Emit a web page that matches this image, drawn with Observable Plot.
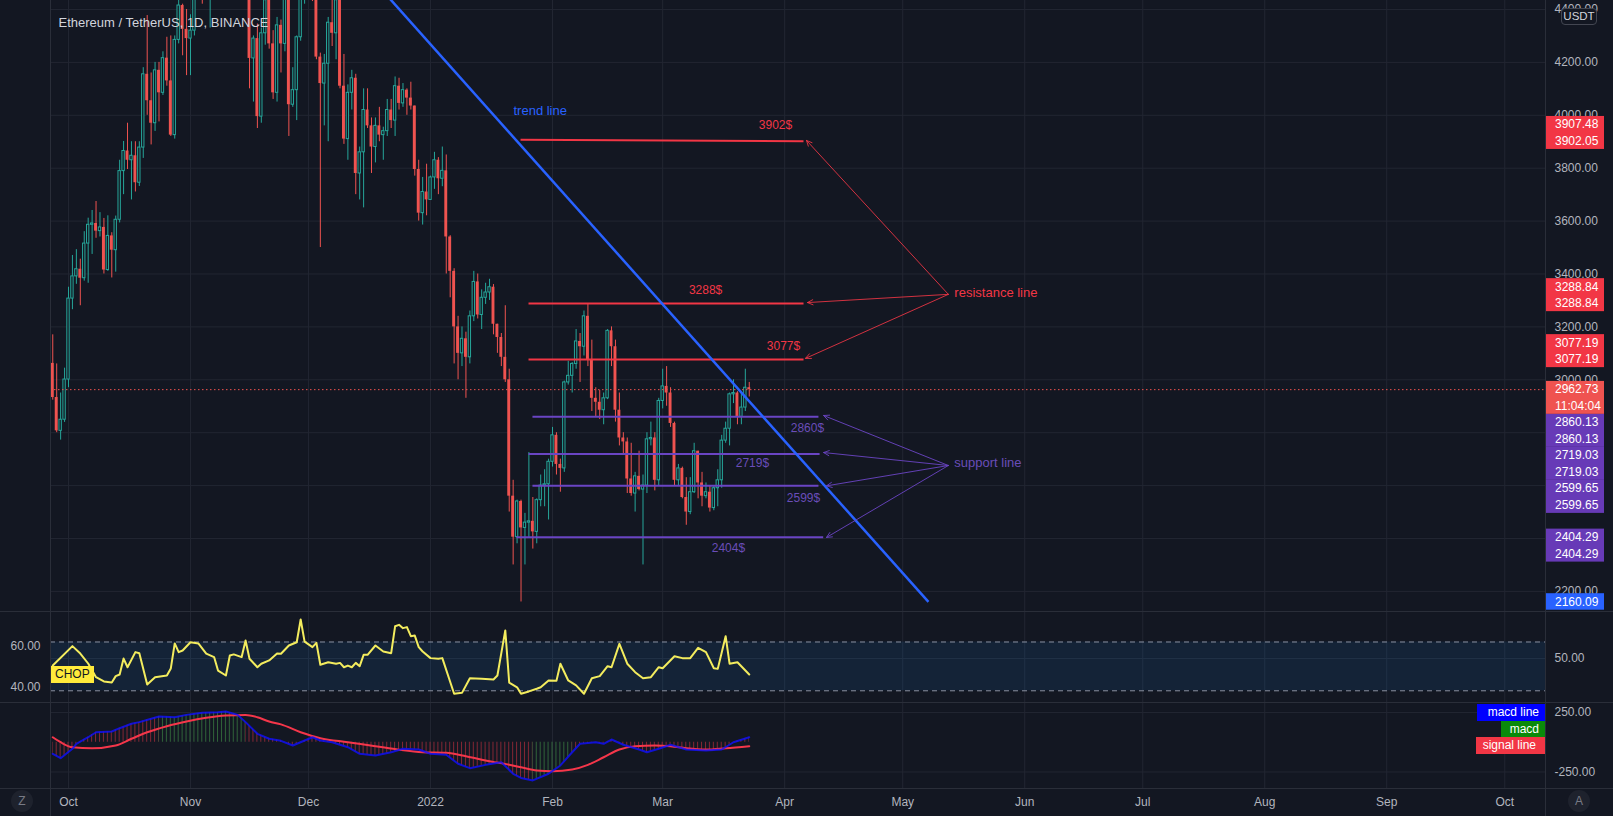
<!DOCTYPE html>
<html>
<head>
<meta charset="utf-8">
<script src="https://cdn.jsdelivr.net/npm/d3@7"></script>
<script src="https://cdn.jsdelivr.net/npm/@observablehq/plot@0.6"></script>
<style>
  html, body { margin: 0; padding: 0; background: #131722; overflow: hidden; }
  #chart { position: relative; width: 1613px; height: 816px; background: #131722; overflow: hidden;
           font-family: "Liberation Sans", Arial, sans-serif; }
  .layer { position: absolute; left: 0; }
  .layer svg { display: block; }
  .sep { position: absolute; background: #2a2e39; z-index: 6; }
  .tag { position: absolute; z-index: 7; font-size: 12px; color: #fff; height: 16.5px; line-height: 16.5px;
         box-sizing: border-box; white-space: nowrap; }
  .icon { position: absolute; z-index: 7; width: 22px; height: 22px; border-radius: 50%; background: #1e222d;
          color: #787b86; font-size: 12px; line-height: 22px; text-align: center; }
</style>
</head>
<body>
<div id="chart"></div>
<script>
// ---------------- DATA ----------------
const title = "Ethereum / TetherUS, 1D, BINANCE";
const firstDay = "2021-09-27";
const lastDay = "2022-03-23";

const opens = [3062,2933,2807,2849,
3001,3307,3391,3418,3384,3515,3586,3591,3562,3576,3415,3544,3490,3605,3789,3865,3830,3847,3745,3878,4155,4055,3970,4170,4085,4216,4130,3925,4285,4415,4325,
4290,4320,4585,4605,4530,4475,4520,4620,4810,4730,4635,4725,4665,4645,4625,4560,4215,4290,3995,4310,4435,4270,4085,4340,4270,4525,4040,4095,4295,4445,
4630,4585,4515,4220,4120,4195,4350,4310,4435,4110,3910,4085,4140,3780,3860,4020,3960,3880,3960,3925,3940,4020,3980,4110,4045,4095,4065,4035,3795,3630,3710,
3680,3765,3830,3760,3790,3540,3410,3200,3100,3155,3085,3240,3370,3245,3310,3330,3350,3210,3160,3085,3000,2560,2405,2540,2440,2460,2465,2425,2545,2600,2605,
2690,2790,2680,2665,2990,3015,3060,3145,3125,3240,3075,2930,2915,2885,2930,3185,3125,2885,2780,2765,2625,2570,2635,2585,2600,2775,2780,2620,
2920,2975,2950,2835,2620,2665,2555,2500,2575,2730,2610,2560,2575,2515,2590,2620,2770,2815,2945,2950,2860,2895,2970];
const highs = [3170,3060,2950,3044,
3350,3470,3492,3456,3560,3611,3640,3674,3632,3610,3620,3556,3619,3830,3901,3970,3900,3900,3900,4180,4377,4160,4200,4200,4240,4295,4300,4300,4460,4420,4400,
4380,4630,4665,4614,4575,4525,4635,4830,4840,4868,4780,4810,4700,4700,4770,4575,4300,4345,4330,4450,4450,4320,4370,4360,4555,4550,4180,4300,4460,4780,
4780,4650,4640,4235,4230,4370,4440,4450,4485,4230,4115,4170,4155,3880,4100,4100,3990,3990,4030,3955,4060,4060,4145,4140,4120,4100,4125,4035,3830,3765,3815,
3770,3860,3840,3880,3850,3545,3420,3240,3200,3180,3260,3410,3400,3340,3365,3380,3360,3210,3175,3280,3040,2620,2545,2545,2495,2725,2555,2550,2640,2660,2700,
2820,2800,2700,2995,3070,3065,3190,3175,3260,3285,3150,2970,2960,2950,3190,3200,3150,2950,2800,2780,2760,2650,2730,2640,2800,2840,2800,2930,
3040,3050,2970,2840,2680,2670,2630,2630,2760,2730,2650,2610,2600,2600,2660,2790,2840,2950,3000,2955,2950,3040,2990];
const lows = [2923,2800,2772,2839,
2970,3265,3361,3280,3373,3365,3474,3535,3540,3400,3410,3385,3407,3593,3700,3795,3680,3710,3731,3837,4000,3888,3939,3975,4075,4110,3920,3910,4270,4225,4150,
4150,4300,4460,4420,4445,4330,4500,4610,4710,4455,4580,4505,4560,4575,4545,4100,4050,3950,3970,4265,4250,4060,4050,4160,4240,3920,4030,3980,4280,4420,
4500,4430,4210,3500,3960,3900,4260,4210,4100,3890,3830,4020,3700,3680,3650,3950,3780,3820,3900,3830,3920,3950,3920,4020,4030,4000,4020,3770,3600,3585,3620,
3680,3720,3700,3730,3400,3310,3060,3000,3050,2930,3060,3220,3230,3190,3285,3300,3170,3100,3050,2990,2500,2300,2380,2160,2300,2400,2360,2380,2520,2520,2470,
2670,2640,2575,2650,2980,2950,3040,2990,3090,3050,2880,2860,2850,2830,2925,3050,2840,2750,2720,2570,2560,2500,2580,2300,2570,2750,2580,2600,
2890,2900,2820,2600,2600,2550,2450,2490,2570,2550,2520,2550,2500,2505,2520,2590,2760,2750,2910,2830,2830,2880,2935];
const closes = [2933,2807,2849,3001,
3307,3391,3418,3384,3515,3586,3591,3562,3576,3415,3544,3490,3605,3789,3865,3830,3847,3745,3878,4155,4055,3970,4170,4085,4216,4130,3925,4285,4415,4325,4290,
4320,4585,4605,4530,4475,4520,4620,4810,4730,4635,4725,4665,4645,4625,4560,4215,4290,3995,4310,4435,4270,4085,4340,4270,4525,4040,4095,4295,4445,4630,
4585,4515,4220,4120,4195,4350,4310,4435,4110,3910,4085,4140,3780,3860,4020,3960,3880,3960,3925,3940,4020,3980,4110,4045,4095,4065,4035,3795,3630,3710,3680,
3765,3830,3760,3790,3540,3410,3200,3100,3155,3085,3240,3370,3245,3310,3330,3350,3210,3160,3085,3000,2560,2405,2540,2440,2460,2465,2425,2545,2600,2605,2690,
2790,2680,2665,2990,3015,3060,3145,3125,3240,3075,2930,2915,2885,2930,3185,3125,2885,2780,2765,2625,2570,2635,2585,2600,2775,2780,2620,2920,
2975,2950,2835,2620,2665,2555,2500,2575,2730,2610,2560,2575,2515,2590,2620,2770,2815,2945,2950,2860,2895,2970,2962.73];
const lastPrice = 2962.73;

const priceTicks = [2200, 2400, 2600, 2800, 3000, 3200, 3400, 3600, 3800, 4000, 4200, 4400];
const monthTickDates = ["2021-10-01","2021-11-01","2021-12-01","2022-01-01","2022-02-01","2022-03-01","2022-04-01",
                        "2022-05-01","2022-06-01","2022-07-01","2022-08-01","2022-09-01","2022-10-01"];
const monthTickLabels = ["Oct","Nov","Dec","2022","Feb","Mar","Apr","May","Jun","Jul","Aug","Sep","Oct"];

// Choppiness index
const chopDates = ["2021-09-27","2021-10-02","2021-10-04","2021-10-06","2021-10-08","2021-10-10","2021-10-12","2021-10-13","2021-10-14","2021-10-15",
"2021-10-16","2021-10-18","2021-10-19","2021-10-21","2021-10-23","2021-10-26","2021-10-27","2021-10-28","2021-10-29","2021-10-30",
"2021-11-01","2021-11-03","2021-11-05","2021-11-07","2021-11-08","2021-11-10","2021-11-11","2021-11-12","2021-11-14","2021-11-15",
"2021-11-16","2021-11-18","2021-11-19","2021-11-21","2021-11-23","2021-11-24","2021-11-26","2021-11-28","2021-11-29","2021-11-30",
"2021-12-02","2021-12-03","2021-12-04","2021-12-06","2021-12-08","2021-12-09","2021-12-10","2021-12-11","2021-12-12","2021-12-13",
"2021-12-14","2021-12-15","2021-12-16","2021-12-18","2021-12-20","2021-12-22","2021-12-23","2021-12-24","2021-12-25","2021-12-26",
"2021-12-27","2021-12-28","2021-12-29","2021-12-30","2022-01-01","2022-01-03","2022-01-04","2022-01-07","2022-01-09","2022-01-11",
"2022-01-14","2022-01-17","2022-01-18","2022-01-20","2022-01-21","2022-01-23","2022-01-24","2022-01-26","2022-01-28","2022-01-29",
"2022-01-31","2022-02-02","2022-02-03","2022-02-05","2022-02-07","2022-02-09","2022-02-11","2022-02-13","2022-02-15","2022-02-16",
"2022-02-18","2022-02-20","2022-02-22","2022-02-24","2022-02-26","2022-02-28","2022-03-01","2022-03-04","2022-03-06","2022-03-08",
"2022-03-10","2022-03-12","2022-03-14","2022-03-15","2022-03-17","2022-03-18","2022-03-20","2022-03-23"];
const chopValues = [50.4,59.8,56.2,51.4,44.8,42.7,42.2,45.3,46.1,53.8,
49.6,56.9,56.4,41.2,44.8,45.6,49.0,61.1,56.9,57.7,
61.7,61.1,56.2,54.5,48.0,45.6,55.3,55.8,54.5,62.5,
53.7,49.6,51.3,52.9,56.2,56.1,60.1,61.7,72.7,62.0,
59.3,61.4,50.8,52.0,51.3,51.7,49.6,50.4,49.6,51.7,
50.1,55.6,55.6,60.1,57.2,56.4,69.4,70.1,68.5,69.0,
64.6,64.9,59.3,57.2,54.0,53.7,54.0,36.8,37.2,44.3,
44.0,43.7,45.6,67.4,42.1,39.9,36.8,37.9,39.2,39.9,
43.2,43.0,51.3,43.2,40.8,36.8,44.3,45.3,50.1,49.6,
60.9,51.3,47.2,44.3,44.8,49.6,49.1,54.9,54.0,54.0,
59.0,56.9,49.1,48.8,64.6,51.3,52.0,46.1];
const chopBandLevels = [38.2, 61.8];
const chopLeftTicks = [60, 40];
const chopRightTicks = [50];

// MACD
const macdDates = ["2021-09-27","2021-09-29","2021-10-02","2021-10-03","2021-10-06","2021-10-08","2021-10-12","2021-10-14","2021-10-17","2021-10-19",
"2021-10-22","2021-10-24","2021-10-28","2021-10-31","2021-11-04","2021-11-08","2021-11-10","2021-11-13","2021-11-15","2021-11-18",
"2021-11-21","2021-11-24","2021-11-27","2021-12-02","2021-12-04","2021-12-07","2021-12-11","2021-12-14","2021-12-18","2021-12-22",
"2021-12-25","2021-12-29","2022-01-01","2022-01-05","2022-01-08","2022-01-11","2022-01-15","2022-01-19","2022-01-22","2022-01-24",
"2022-01-27","2022-01-31","2022-02-03","2022-02-06","2022-02-08","2022-02-12","2022-02-14","2022-02-16","2022-02-19","2022-02-23",
"2022-02-25","2022-02-28","2022-03-03","2022-03-07","2022-03-12","2022-03-16","2022-03-19","2022-03-23"];
const macdValues = [-97,-134,-55,-13,42,84,90,118,155,169,
197,216,210,230,247,253,258,230,169,71,
29,12,-27,42,15,0,-42,-97,-111,-84,
-55,-61,-97,-105,-181,-218,-190,-168,-265,-300,
-321,-265,-195,-84,-13,0,-13,23,-21,-61,
-84,-55,-21,-61,-69,-61,0,42];
const signalDates = ["2021-09-27","2021-09-29","2021-10-02","2021-10-07","2021-10-13","2021-10-17","2021-10-21","2021-10-26","2021-10-31","2021-11-05",
"2021-11-10","2021-11-15","2021-11-18","2021-11-21","2021-11-24","2021-11-29","2021-12-04","2021-12-11","2021-12-18","2021-12-24",
"2021-12-30","2022-01-05","2022-01-10","2022-01-15","2022-01-21","2022-01-24","2022-01-28","2022-02-01","2022-02-06","2022-02-10",
"2022-02-14","2022-02-18","2022-02-22","2022-02-27","2022-03-03","2022-03-07","2022-03-12","2022-03-17","2022-03-23"];
const signalValues = [42,0,-42,-50,-27,29,84,135,174,205,
225,230,210,174,150,84,34,0,-33,-63,
-84,-89,-117,-153,-190,-210,-237,-243,-229,-190,
-126,-61,-33,-27,-33,-50,-61,-50,-33];
const histGreenRanges = [["2021-10-27","2021-11-16"], ["2022-01-31","2022-02-07"]];
const macdTicks = [250, -250];

// Drawings
const trendDates = ["2021-12-21T14:00Z", "2022-05-07T13:00Z"];
const trendPrices = [4442, 2160.09];
const trendLabel = "trend line";
const trendLabelDate = "2022-01-22T02:00Z";
const trendLabelPrice = 4015;

const levelLabels = ["3902$","3288$","3077$","2860$","2719$","2599$","2404$"];
const levelKinds = ["res","res","res","sup","sup","sup","sup"];
const levelStartDates = ["2022-01-23T21:00Z","2022-01-25T21:40Z","2022-01-25T21:40Z","2022-01-26T21:40Z","2022-01-25T21:40Z","2022-01-26T21:40Z","2022-01-22T20:00Z"];
const levelEndDates = ["2022-04-05T19:00Z","2022-04-05T19:00Z","2022-04-05T19:00Z","2022-04-09T14:00Z","2022-04-09T21:00Z","2022-04-09T14:00Z","2022-04-10T19:00Z"];
const levelStartPrices = [3907.48, 3288.84, 3077.19, 2860.13, 2719.03, 2599.65, 2404.29];
const levelEndPrices = [3902.05, 3288.84, 3077.19, 2860.13, 2719.03, 2599.65, 2404.29];
const levelLabelDates = ["2022-03-29T16:00Z","2022-03-11T21:40Z","2022-03-31T17:00Z","2022-04-06T19:00Z","2022-03-23T19:30Z","2022-04-05T19:00Z","2022-03-17T17:00Z"];
const levelLabelPrices = [3962, 3338, 3126, 2816, 2684, 2552, 2362];
const arrowTipDates = ["2022-04-06T13:00Z","2022-04-06T19:00Z","2022-04-06T07:00Z","2022-04-10T21:30Z","2022-04-10T21:30Z","2022-04-11T15:00Z","2022-04-11T15:00Z"];
const arrowTipPrices = [3905, 3292, 3081, 2865, 2725, 2599, 2404];

const calloutTexts = ["resistance line", "support line"];
const calloutKinds = ["res", "sup"];
const calloutDates = ["2022-05-12T14:24Z", "2022-05-12T14:24Z"];
const calloutPrices = [3323, 2676];

// Price-scale labels
const badgeTexts = [["3907.48","3902.05"],["3288.84","3288.84"],["3077.19","3077.19"],["2962.73","11:04:04"],
                    ["2860.13","2860.13"],["2719.03","2719.03"],["2599.65","2599.65"],["2404.29","2404.29"],["2160.09"]];
const badgeValues = [3902.05, 3288.84, 3077.19, 2962.73, 2860.13, 2719.03, 2599.65, 2404.29, 2160.09];
const badgeKinds = ["res","res","res","last","sup","sup","sup","sup","trend"];

const macdLegend = ["macd line", "macd", "signal line"];

// ---------------- STYLE / LAYOUT ----------------
const W = 1613;
const FONT = '"Liberation Sans", Arial, sans-serif';
const C = {
  bg: "#131722", grid: "#222632", text: "#b2b5be",
  up: "#26a69a", down: "#ef5350",
  res: "#f23645", sup: "#6a45c4", supText: "#6a4db8", trend: "#2962ff",
  chop: "#f3ec5e", dash: "#8a90a0", band: "rgba(33,150,243,0.1)",
  macd: "#1010ff", signal: "#f5364a",
  histRed: "rgba(242,54,69,0.5)", histGreen: "rgba(76,175,80,0.5)"
};
const kindColor = {res: C.res, sup: "#673ab7", last: C.down, trend: C.trend};
const baseStyle = {background: "transparent", color: C.text, fontFamily: FONT, fontSize: "12px"};
const xDomain = [new Date("2021-09-26T10:13:00Z"), new Date("2022-10-11T08:24:00Z")];
const M = {left: 50, right: 68};

// ---------------- DERIVED TABLES ----------------
const days = d3.utcDay.range(new Date(firstDay), d3.utcDay.offset(new Date(lastDay), 1));
const candles = days.map((d, i) => ({date: d, open: opens[i], high: highs[i], low: lows[i], close: closes[i]}));
const upC = candles.filter(d => d.close >= d.open);
const downC = candles.filter(d => d.close < d.open);
const DAY = 864e5;
const monthTicks = monthTickDates.map(s => new Date(s));
const monthLabelByTime = new Map(monthTicks.map((d, i) => [+d, monthTickLabels[i]]));
const chopPts = chopDates.map((s, i) => ({date: new Date(s), v: chopValues[i]}));
const macdPts = macdDates.map((s, i) => ({date: new Date(s), v: macdValues[i]}));
const sigPts = signalDates.map((s, i) => ({date: new Date(s), v: signalValues[i]}));
const levels = levelLabels.map((t, i) => ({
  label: t, kind: levelKinds[i],
  x1: new Date(levelStartDates[i]), x2: new Date(levelEndDates[i]),
  p1: levelStartPrices[i], p2: levelEndPrices[i],
  lx: new Date(levelLabelDates[i]), lp: levelLabelPrices[i],
  tx: new Date(arrowTipDates[i]), tp: arrowTipPrices[i]
}));
const callouts = calloutTexts.map((t, i) => ({text: t, kind: calloutKinds[i], x: new Date(calloutDates[i]), p: calloutPrices[i]}));
const arrows = levels.map(l => {
  const c = callouts.find(c => c.kind === l.kind);
  return {kind: l.kind, x1: c.x, y1: c.p, x2: l.tx, y2: l.tp};
});
const trend = {x1: new Date(trendDates[0]), y1: trendPrices[0], x2: new Date(trendDates[1]), y2: trendPrices[1]};
const res = k => levels.filter(l => l.kind === k);

// ---------------- RENDER ----------------
const chart = document.getElementById("chart");
function place(node, top, z) {
  const div = document.createElement("div");
  div.className = "layer";
  div.style.top = top + "px";
  div.style.zIndex = z;
  div.appendChild(node);
  chart.appendChild(div);
}

// Main pane
const mainY = {domain: [2124, 4434], label: null};
const mainPlot = Plot.plot({
  width: W, height: 611, marginLeft: M.left, marginRight: M.right, marginTop: 0, marginBottom: 0,
  style: baseStyle,
  x: {type: "utc", domain: xDomain, axis: null, label: null},
  y: {...mainY, axis: "right", ticks: priceTicks, tickFormat: d => d.toFixed(2), tickSize: 0, tickPadding: 9},
  marks: [
    Plot.ruleY(priceTicks, {stroke: C.grid}),
    Plot.ruleX(monthTicks, {stroke: C.grid}),
    Plot.ruleX(upC, {x: "date", y1: "low", y2: "high", stroke: C.up, strokeWidth: 1}),
    Plot.ruleX(downC, {x: "date", y1: "low", y2: "high", stroke: C.down, strokeWidth: 1}),
    Plot.rect(upC, {x1: d => new Date(+d.date - 0.3 * DAY), x2: d => new Date(+d.date + 0.3 * DAY),
                    y1: "open", y2: "close", fill: C.bg, stroke: C.up, strokeWidth: 1}),
    Plot.rect(downC, {x1: d => new Date(+d.date - 0.37 * DAY), x2: d => new Date(+d.date + 0.37 * DAY),
                      y1: "open", y2: "close", fill: C.down}),
    Plot.ruleY([lastPrice], {stroke: C.down, strokeDasharray: "1.5,2.5", strokeWidth: 1}),
    Plot.link(res("res"), {x1: "x1", y1: "p1", x2: "x2", y2: "p2", stroke: C.res, strokeWidth: 2}),
    Plot.link(res("sup"), {x1: "x1", y1: "p1", x2: "x2", y2: "p2", stroke: C.sup, strokeWidth: 2}),
    Plot.link([trend], {x1: "x1", y1: "y1", x2: "x2", y2: "y2", stroke: C.trend, strokeWidth: 2.5}),
    Plot.arrow(arrows.filter(a => a.kind === "res"), {x1: "x1", y1: "y1", x2: "x2", y2: "y2",
      stroke: C.res, strokeWidth: 1, strokeOpacity: 0.85, headLength: 9, headAngle: 50}),
    Plot.arrow(arrows.filter(a => a.kind === "sup"), {x1: "x1", y1: "y1", x2: "x2", y2: "y2",
      stroke: C.sup, strokeWidth: 1, strokeOpacity: 0.9, headLength: 9, headAngle: 50}),
    Plot.text(res("res"), {x: "lx", y: "lp", text: "label", fill: C.res, fontSize: 12}),
    Plot.text(res("sup"), {x: "lx", y: "lp", text: "label", fill: C.supText, fontSize: 12}),
    Plot.text(callouts.filter(c => c.kind === "res"), {x: "x", y: "p", text: "text", fill: C.res,
      textAnchor: "start", dx: 6, dy: -2, fontSize: 13}),
    Plot.text(callouts.filter(c => c.kind === "sup"), {x: "x", y: "p", text: "text", fill: C.supText,
      textAnchor: "start", dx: 6, dy: -3, fontSize: 13}),
    Plot.text([{t: trendLabel, x: new Date(trendLabelDate), p: trendLabelPrice}], {x: "x", y: "p", text: "t",
      fill: C.trend, textAnchor: "start", fontSize: 13}),
    Plot.text([title], {frameAnchor: "top-left", dx: 8, dy: 17, text: d => d, fill: "#d1d4dc",
      fontSize: 13, textAnchor: "start"})
  ]
});
place(mainPlot, 0, 1);

// Price-scale badges overlay (stacked like the platform does)
const badgeGroups = badgeTexts.map((texts, i) => ({texts, value: badgeValues[i], kind: badgeKinds[i]}));
const badgeMark = (index, scales, values, dims) => {
  const y = scales.y;
  const x0 = dims.width - dims.marginRight;
  const rowH = 16.5, w = 59;
  const g = d3.create("svg:g").attr("text-anchor", "start");
  let bottom = -Infinity;
  for (const grp of badgeGroups) {
    const anchorRow = grp.kind === "res" ? grp.texts.length - 1 : 0;
    let top = y(grp.value) - rowH / 2 - anchorRow * rowH;
    if (top < bottom) top = bottom;
    g.append("rect").attr("x", x0).attr("y", top).attr("width", w).attr("height", rowH * grp.texts.length)
      .attr("fill", kindColor[grp.kind]);
    grp.texts.forEach((t, j) => {
      g.append("text").attr("x", x0 + 10).attr("y", top + rowH * (j + 0.5)).attr("dy", "0.35em")
        .attr("text-anchor", "start")
        .attr("fill", "#ffffff").attr("font-size", 12).attr("font-family", FONT).text(t);
    });
    bottom = top + rowH * grp.texts.length;
  }
  return g.node();
};
const badgePlot = Plot.plot({
  width: W, height: 611, marginLeft: M.left, marginRight: M.right, marginTop: 0, marginBottom: 0,
  style: baseStyle,
  x: {type: "utc", domain: xDomain, axis: null, label: null},
  y: {...mainY, axis: null},
  marks: [
    Plot.ruleY(badgeValues, {strokeOpacity: 0}),
    badgeMark
  ]
});
place(badgePlot, 0, 2);

// CHOP pane: right scale overlay (beneath)
const chopRight = Plot.plot({
  width: W, height: 91, marginLeft: M.left, marginRight: M.right, marginTop: 0, marginBottom: 0,
  style: baseStyle,
  x: {type: "utc", domain: xDomain, axis: null, label: null},
  y: {domain: [28.72, 72.73], axis: "right", ticks: chopRightTicks, tickFormat: d => d.toFixed(2),
      tickSize: 0, tickPadding: 9, label: null},
  marks: [
    Plot.ruleY(chopRightTicks, {stroke: C.grid}),
    Plot.ruleX(monthTicks, {stroke: C.grid})
  ]
});
place(chopRight, 611, 1);

const chopPlot = Plot.plot({
  width: W, height: 91, marginLeft: M.left, marginRight: M.right, marginTop: 0, marginBottom: 0,
  style: baseStyle,
  x: {type: "utc", domain: xDomain, axis: null, label: null},
  y: {domain: [32.54, 76.55], axis: "left", ticks: chopLeftTicks, tickFormat: d => d.toFixed(2),
      tickSize: 0, tickPadding: 10, label: null},
  marks: [
    Plot.rect([{lo: chopBandLevels[0], hi: chopBandLevels[1]}], {y1: "lo", y2: "hi", fill: C.band}),
    Plot.ruleY(chopBandLevels, {stroke: C.dash, strokeDasharray: "5,4", strokeWidth: 1}),
    Plot.line(chopPts, {x: "date", y: "v", stroke: C.chop, strokeWidth: 2})
  ]
});
place(chopPlot, 611, 2);

// MACD pane + time axis
const isGreen = d => histGreenRanges.some(([a, b]) => d >= new Date(a) && d <= new Date(b));
const histSegs = [];
{
  let cur = null;
  for (const p of macdPts) {
    const g = isGreen(p.date);
    if (!cur || cur.green !== g) {
      const s = {green: g, pts: cur ? [cur.pts[cur.pts.length - 1]] : []};
      histSegs.push(s);
      cur = s;
    }
    cur.pts.push(p);
  }
}
const histDefs = (index, scales, values, dims) => {
  const x0 = scales.x(days[0]);
  const step = scales.x(days[1]) - x0;
  const g = d3.create("svg:g");
  const defs = g.append("defs");
  [["histRed", C.histRed], ["histGreen", C.histGreen]].forEach(([id, col]) => {
    const p = defs.append("pattern").attr("id", id).attr("patternUnits", "userSpaceOnUse")
      .attr("x", x0 - 0.5).attr("y", 0).attr("width", step).attr("height", dims.height);
    p.append("rect").attr("x", 0).attr("y", 0).attr("width", 1).attr("height", dims.height).attr("fill", col);
  });
  return g.node();
};
const macdPlot = Plot.plot({
  width: W, height: 114, marginLeft: M.left, marginRight: M.right, marginTop: 0, marginBottom: 28,
  style: baseStyle,
  x: {type: "utc", domain: xDomain, axis: "bottom", ticks: monthTicks, tickFormat: d => monthLabelByTime.get(+d) ?? "",
      tickSize: 0, tickPadding: 9, label: null},
  y: {domain: [-388.7, 334], axis: "right", ticks: macdTicks, tickFormat: d => d.toFixed(2),
      tickSize: 0, tickPadding: 9, label: null},
  marks: [
    Plot.ruleY(macdTicks, {stroke: C.grid}),
    Plot.ruleX(monthTicks, {stroke: C.grid}),
    histDefs,
    ...histSegs.map(s => Plot.areaY(s.pts, {x: "date", y: "v", fill: s.green ? "url(#histGreen)" : "url(#histRed)"})),
    Plot.line(sigPts, {x: "date", y: "v", stroke: C.signal, strokeWidth: 2, curve: "monotone-x"}),
    Plot.line(macdPts, {x: "date", y: "v", stroke: C.macd, strokeWidth: 2, strokeOpacity: 0.8})
  ]
});
place(macdPlot, 702, 1);

// ---------------- HTML chrome ----------------
function el(cls, css, text) {
  const d = document.createElement("div");
  d.className = cls;
  Object.assign(d.style, css);
  if (text != null) d.textContent = text;
  chart.appendChild(d);
  return d;
}
// pane separators and scale borders
el("sep", {left: "0px", top: "611px", width: W + "px", height: "1px"});
el("sep", {left: "0px", top: "702px", width: W + "px", height: "1px"});
el("sep", {left: "0px", top: "788px", width: W + "px", height: "1px"});
el("sep", {left: "50px", top: "0px", width: "1px", height: "816px"});
el("sep", {left: "1545px", top: "0px", width: "1px", height: "816px"});

// currency badge
el("tag", {left: "1561px", top: "8px", width: "36px", height: "17px", lineHeight: "15px", border: "1px solid #434651",
  borderRadius: "4px", background: C.bg, color: "#d1d4dc", fontSize: "11.5px", textAlign: "center"}, "USDT");

// CHOP label
el("tag", {left: "51px", top: "666px", height: "17px", lineHeight: "17px", padding: "0 4px", background: "#ffeb3b",
  color: "#131722", fontSize: "12px"}, "CHOP");

// MACD legend
const legendBg = ["#0000ff", "#0a8a0a", C.res];
const legendW = [68, 44, 69];
macdLegend.forEach((t, i) => {
  el("tag", {left: (1545 - legendW[i]) + "px", top: (704 + i * 16.5) + "px", width: legendW[i] + "px",
    background: legendBg[i], textAlign: "right", paddingRight: i === 2 ? "9px" : "6px"}, t);
});

// corner icons
el("icon", {left: "11px", top: "790px"}, "Z");
el("icon", {left: "1568px", top: "790px"}, "A");
</script>
</body>
</html>
